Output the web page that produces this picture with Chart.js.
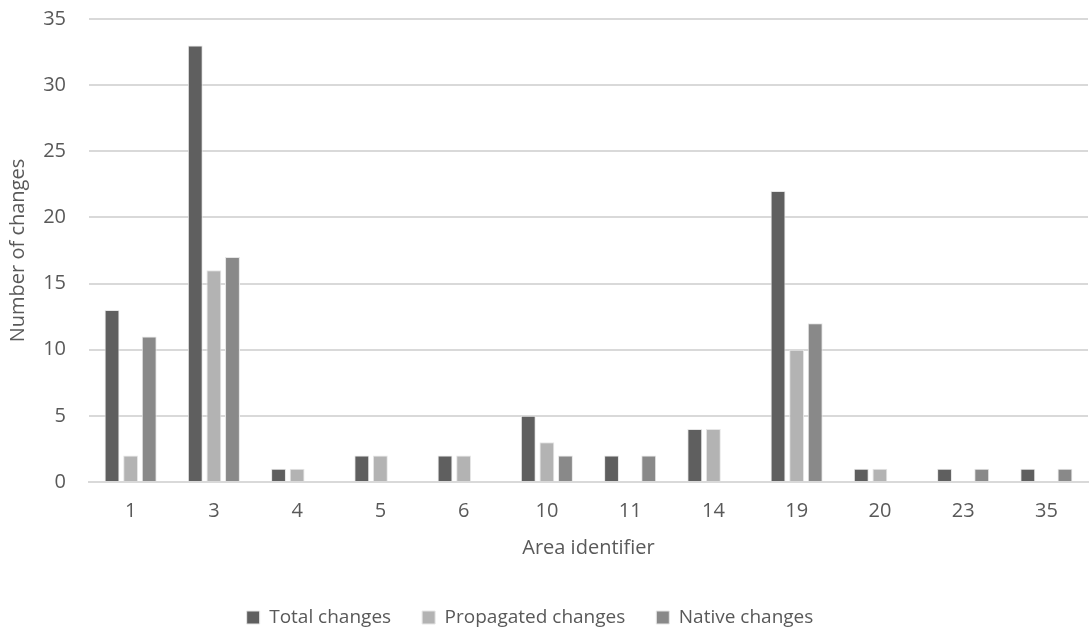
<!DOCTYPE html>
<html>
<head>
<meta charset="utf-8">
<script src="https://cdn.jsdelivr.net/npm/chart.js@4/dist/chart.umd.min.js"></script>
<style>
  html, body { margin: 0; padding: 0; background: #fff; }
  #wrap { width: 1089px; height: 637px; }
</style>
</head>
<body>
<div id="wrap"><canvas id="myChart"></canvas></div>
<script>
// area ids on the x axis
const areas = ['1', '3', '4', '5', '6', '10', '11', '14', '19', '20', '23', '35'];
const totalChanges = [13, 33, 1, 2, 2, 5, 2, 4, 22, 1, 1, 1];
const propagatedChanges = [2, 16, 1, 2, 2, 3, 0, 4, 10, 1, 0, 0];
const nativeChanges = [11, 17, 0, 0, 0, 2, 2, 0, 12, 0, 1, 1];
const yTicks = [0, 5, 10, 15, 20, 25, 30, 35];

const textColor = '#595959';
const fam = '"Open Sans", sans-serif';

function makeSet(label, data, color) {
  return {
    label: label,
    data: data,
    backgroundColor: color,
    borderColor: '#e6e6e6',
    borderWidth: 1,
    categoryPercentage: 0.67,
    barPercentage: 0.8
  };
}

// legend in the original sits a bit left of the canvas centre
const nudgeLegend = {
  id: 'nudgeLegend',
  afterLayout(chart) {
    chart.legend.left -= 17;
    chart.legend.right -= 17;
  }
};

let el = document.getElementById('myChart');
let myChart = new Chart(el, {
  type: 'bar',
  data: {
    labels: areas,
    datasets: [
      makeSet('Total changes', totalChanges, '#5f5f5f'),
      makeSet('Propagated changes', propagatedChanges, '#b3b3b3'),
      makeSet('Native changes', nativeChanges, '#898989')
    ]
  },
  plugins: [nudgeLegend],
  options: {
    responsive: true,
    maintainAspectRatio: false,
    animation: false,
    layout: { padding: { left: 6, right: 1, top: 19, bottom: 0 } },
    plugins: {
      tooltip: { enabled: false },
      legend: {
        position: 'bottom',
        labels: {
          color: textColor,
          font: { family: fam, size: 19 },
          boxWidth: 13,
          boxHeight: 13,
          padding: 31
        }
      }
    },
    scales: {
      x: {
        afterFit: (axis) => { axis.height = 95; },
        grid: { display: false, drawTicks: false },
        border: { color: '#d9d9d9', width: 2 },
        ticks: { color: textColor, font: { family: fam, size: 20 }, padding: 17 },
        title: {
          display: true,
          text: 'Area identifier',
          color: textColor,
          font: { family: fam, size: 20 },
          padding: { top: 13, bottom: 17 }
        }
      },
      y: {
        min: 0,
        max: 35,
        afterBuildTicks: (axis) => { axis.ticks = yTicks.map(v => ({ value: v })); },
        // fixed axis width, no extra room above the top label
        afterFit: (axis) => {
          axis.width = 83;
          axis.paddingTop = 0;
          axis.paddingBottom = 0;
        },
        grid: { color: '#d9d9d9', lineWidth: 2, drawTicks: false },
        border: { display: false },
        ticks: { color: textColor, font: { family: fam, size: 20 }, padding: 23 },
        title: {
          display: true,
          text: 'Number of changes',
          color: textColor,
          font: { family: fam, size: 20 },
          padding: { top: 0, bottom: 14 }
        }
      }
    }
  }
});
if (!myChart) { console.log('no chart'); }
</script>
</body>
</html>
